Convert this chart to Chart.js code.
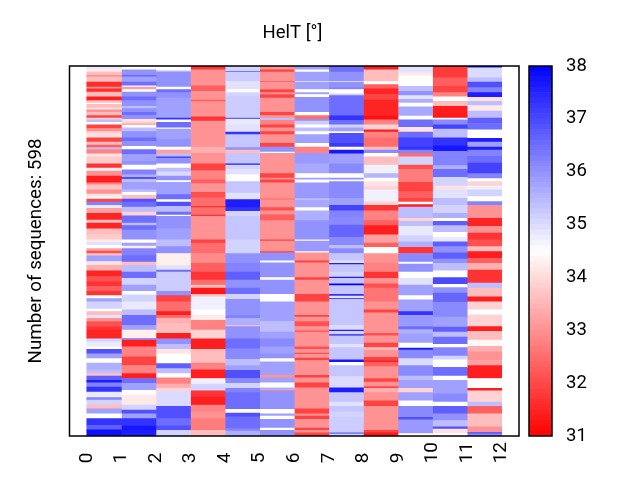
<!DOCTYPE html>
<html>
<head>
<meta charset="utf-8">
<title>HelT</title>
<script src="https://cdn.jsdelivr.net/npm/chart.js@4/dist/chart.umd.min.js"></script>
<style>
  html, body { margin: 0; padding: 0; background: #fff; }
  #wrap { position: relative; width: 640px; height: 480px; }
  #heat { position: absolute; left: 0; top: 0; }
  #bar { position: absolute; left: 520px; top: 0; }
</style>
</head>
<body>
<div id="wrap">
  <canvas id="heat" width="585" height="480" style="width:585px;height:480px"></canvas>
  <canvas id="bar" width="120" height="480" style="width:120px;height:480px"></canvas>
</div>
<script>
// each column: [last row of the run, HelT value], rows counted from the top
const col0 = [[2,34.9],[5,34.8],[10,34.2],[15,33.6],[18,33],[26,33.6],[34,31.6],[37,33],[42,31.6],[50,33.6],[56,31.4],[60,33.6],[62,34.5],[68,33.6],[71,34.1],[75,33],[80,33.6],[84,31.9],[87,33.9],[91,35.4],[95,34.5],[101,31.9],[106,33],[110,33.9],[116,34.1],[123,31.9],[128,33.6],[132,32.3],[135,35.4],[142,32.8],[147,34.1],[158,33.8],[165,31.7],[170,34.3],[178,33],[189,31.4],[192,32.8],[200,33.7],[207,33],[212,34.1],[215,34.5],[220,31.9],[225,36.2],[230,34.8],[238,33.2],[249,31.5],[254,33.6],[263,31.5],[273,33.6],[281,33.8],[285,34.2],[290,34.9],[295,34.5],[299,33.2],[303,32.1],[307,33.6],[316,35.8],[322,34.1],[331,33.4],[340,31.5],[349,32.1],[356,31.7],[364,32.3],[371,31.7],[376,34.5],[381,35.8],[393,35.1],[397,34.5],[403,33.6],[408,34.9],[413,33],[421,32.1],[427,31.7],[441,31.5],[446,35.1],[454,34.8],[458,34.5],[465,36.9],[473,35.8],[480,34.5],[491,35.6],[497,35.4],[501,33.6],[508,36.7],[512,37.6],[519,36.2],[527,37.3],[536,34.8],[540,36.2],[548,35.1],[554,33.6],[562,35.8],[570,34.5],[581,37.3],[588,36.7],[598,37.8]];
const col1 = [[6,34.5],[15.5,36],[17.5,36.7],[26,35.8],[32,36.5],[34,34.5],[38,33.2],[42,34.5],[50,36],[56,36.5],[65,36],[69,35.4],[75,36],[80,36.5],[86,36],[90,34.1],[93,33.9],[96,33.4],[100,34.5],[106,35.4],[116,36],[122,36.5],[130,36],[135,34.5],[143,36.5],[154,35.8],[160,36],[168,34.5],[176,36.2],[180,35.6],[183,36.9],[188,35.4],[200,35.8],[204,35.4],[209,34.5],[215,33.6],[220,36.9],[228,36.5],[236,35.4],[242,33.9],[254,36.5],[258,35.4],[265,36.5],[281,36],[286,34.5],[291,35.8],[295,34.2],[306.5,36.2],[317,36.5],[322,33.6],[333,35.4],[343,36.5],[354,35.1],[364,35.8],[370,34.5],[381,35.1],[394,34.8],[403,35.4],[419,36.5],[427,35.8],[440,34.3],[443,36],[454,31.4],[470,32.8],[484,31.9],[497,32.8],[505,31.4],[513,36.5],[524,35.8],[532,34.5],[548,34.2],[556,35.1],[562,36.9],[570,35.8],[581,37.3],[589,37.7],[598,37.6]];
const col2 = [[8,34.5],[10,35.4],[34,36],[38,34.5],[43,36.5],[52,36],[84,35.8],[87,37.3],[91,34.5],[100,36.5],[102,34.5],[119,35.8],[131,36],[136,34.5],[142,33.2],[147,35.4],[149,37.3],[158,36],[165,34.5],[171,35.4],[178,35],[185,36],[188,34.5],[208,35.8],[216,36.5],[220,34.5],[227,36.9],[236,35.4],[241,36.5],[243,34.5],[263,36],[281,35.8],[292,35.4],[303,36],[322,34.3],[330,34.9],[333,36.5],[364,35.2],[371,36],[381,31.9],[397,32.5],[403,31.4],[408,32.5],[416,33.4],[432,33.6],[441,31.4],[450,36],[458,35.4],[465,34.1],[481,34.5],[489,36.7],[497,35.4],[504,34.5],[514,32.8],[521,33.4],[526,33.9],[550,35],[570,36.9],[581,36.5],[589,36.9],[598,35.1]];
const col3 = [[6,31.7],[32,33],[41,32.3],[55,33],[57.5,32.3],[82,33],[89,31.7],[131,33],[141,33.4],[158,33],[169,31.9],[184,32.8],[190,32.3],[204,33],[213,32.1],[227,32.5],[229,31.7],[241,32.5],[243,31.7],[281,33],[286,31.9],[303,32.5],[319,32.9],[333,32.3],[346,31.7],[354,32.5],[359,33.6],[369,31.3],[373,33.6],[394,34.7],[403,34.5],[411,34.2],[427,32.8],[441,33.9],[458,31.4],[480,33.6],[491,32.8],[505,31.4],[514,34.7],[525,35.1],[535,31.7],[548,31.4],[559,32.8],[570,33],[589,32.7],[598,33.6]];
const col4 = [[9,35.1],[10,37.3],[25,35.2],[38,34.9],[43,34.5],[49,35.1],[84,35.2],[86,36.7],[95,34.8],[107,34.9],[111,37.3],[132,35.3],[136,36],[141,33.6],[158,35.3],[160,37.6],[167,35.1],[176,34.9],[187,34.5],[205.5,35.3],[216,34.9],[229,37.6],[235,37.3],[243,35.1],[281,35.3],[303,35.1],[319,36],[333,36.2],[346,36.7],[359,36],[369,36.5],[377,35.1],[403,36],[408,36.2],[419,35.6],[421,33.6],[441,36],[457,36.5],[474,36.1],[484,35.4],[492,35.8],[505,36.9],[513,36.1],[521,35.1],[528,36.2],[555,36.5],[561,34.5],[567,36.9],[586,36.5],[590,36.2],[598,35.6]];
const col5 = [[6,33],[10,31.9],[25,33],[26,31.9],[38,33],[43,31.9],[46,33],[52,31.9],[75,33],[80,31.9],[84,33],[88,35.4],[95,32.8],[100,31.9],[106,33],[111,31.9],[125,33],[131,31.9],[139,36],[141,34.5],[174,33],[181,31.9],[184,33],[189,31.9],[215,33],[216,31.9],[229,33],[234,32.1],[240,33],[250,32.3],[281,33],[283,31.9],[300,33],[302,31.9],[315,36],[318,34.5],[342,36],[346,34.5],[369,36],[381,34.5],[413,35.8],[430,35.4],[441,35.8],[454,36.1],[465,35.8],[473,36],[478,34.5],[500,35.8],[504,33],[512,35.8],[520,34.5],[524,35.6],[526,32.8],[555,36],[562,34.5],[566,35.8],[571,34.5],[585,36],[589,34.5],[598,36]];
const col6 = [[6,35.8],[10,34.5],[25,35.8],[26,34.5],[38,35.8],[43,34.5],[46,35.8],[50.5,34.5],[75,36],[80,34.5],[86,32.5],[89,36],[95,35.2],[100,34.5],[106,35.4],[111,34.5],[125,35.8],[131,34.5],[141,32.8],[158,35.9],[174,35.7],[181,34.5],[184,35.8],[189,34.5],[215,35.9],[216,34.5],[229,35.7],[234,34.5],[250,35.6],[281,36],[283,34.5],[300,35.9],[302,34.5],[315,33],[318,31.9],[342,33],[346,31.9],[369,33],[381,31.9],[403,33],[406,31.9],[413,33],[421,32.1],[428,33],[430,32.1],[454,33],[458,32.1],[464,33],[466,32.1],[472,33],[476,31.9],[500,33],[504,31.9],[512,33],[520,31.9],[554,33],[562,31.9],[566,33],[571,31.9],[585,33],[589,31.9],[593,33],[598,31.9]];
const col7 = [[10,36.5],[25,36],[26,34.5],[35,36],[38,36.2],[45,34.5],[48,35.1],[80,36.5],[88,37.3],[95,36.5],[100,35.1],[106,35.8],[109,34.5],[125,36.9],[131,37.2],[136,34.5],[142,37.7],[158,35.8],[174,36.1],[181,34.5],[184,36],[187,34.5],[214,36.1],[225,35.8],[234,37.1],[245,36.2],[257,36.1],[277,36.6],[290,36.1],[295,35.4],[303,36.1],[315,35.3],[319,34.9],[321,37.6],[333,35.3],[341,35.1],[343,37.6],[352,35.3],[355,38],[369,35.3],[372,37.3],[376,34.9],[377,37.6],[394,35.3],[419,35.3],[427,35],[429,37.6],[434,35.1],[436,37.6],[450,35.3],[455,34.9],[475,35.3],[479,37.7],[484,34.5],[502,35.3],[520,35],[528,37.6],[543,35.3],[550,34.9],[559,35.3],[568,35.1],[593,35.2],[595,36.7],[598,35.1]];
const col8 = [[6,31.4],[25,33.6],[30,34.5],[37,32.3],[46,31.5],[55,31.9],[81,31.5],[87,31.2],[95,32.8],[103,33.9],[107,31.4],[116,32.8],[131,32.5],[136,33.6],[141,36.1],[147,34.5],[160,33.6],[174,34.7],[181,35.5],[187,34.5],[195,34.1],[200,33.9],[219,34.7],[225,33.9],[234,31.7],[250,32.8],[258,32.3],[273,31.4],[286,33.2],[293,32.3],[303,34.5],[319,33],[333,32.8],[343,31.7],[352,33],[359,32.1],[381,32.6],[394,33],[399,31.9],[432,33],[436,32.1],[448,33],[455,31.9],[459,33.6],[471,33],[476,31.9],[479,31.4],[486,32.3],[505,33],[511,31.9],[518,33],[521,31.9],[528,33.4],[541,33],[550,31.9],[589,33],[593,31.9],[598,31.3]];
const col9 = [[11,34.9],[16,34.2],[33,34.5],[41,35.4],[48,36],[54,34.9],[60,35.6],[66,34.5],[81,35.7],[87,34.5],[99,36.5],[107,34.1],[116,36.5],[131,37.1],[136,37.3],[141,36.2],[147,32.5],[160,35.1],[167,32.1],[188,32.7],[203,31.9],[214,32.3],[220,31.9],[224,34.5],[228,31.4],[246,35.4],[251,33.9],[259,35.4],[274,34.8],[284,35.1],[293,35.6],[303,31.7],[317,36.1],[320,34.5],[333,36],[343,34.5],[354,34.9],[371,35.8],[378,34.5],[394,35.8],[397,35.8],[403,37.3],[421,35.9],[426,36.5],[433,35.6],[448,35.8],[456,34.5],[459,37.6],[473,36.1],[484,35],[501,36.1],[508,35.4],[521,35.8],[528,33.9],[541,35.8],[550,34.5],[568,36.1],[572,36.9],[594,35.9],[598,34.5]];
const col10 = [[19,31.8],[33,32.3],[43,31.9],[50,32.8],[57,34.5],[65,33.6],[79,31.4],[84,31.3],[87,34.5],[95,36.1],[102,37.1],[116,35.4],[129,37.3],[138,37.7],[161,36.2],[167,35.6],[180,36.5],[194,35.1],[200,34.1],[214,34.9],[225,35.4],[238,35.1],[246,35.6],[251,34.5],[258,36.7],[269,35.4],[277,34.5],[284,34.8],[292,36.7],[302,36],[312,36.7],[319,36],[331,35.4],[342,34.5],[353,37],[358,34.5],[367,36],[382,36.6],[406,36.1],[422,35.8],[430,36.7],[438,35.4],[450,36.5],[455,34.5],[469,36.2],[475,35.1],[487,34.5],[501,36.5],[508,34.5],[530,35.8],[543,36.1],[550,34.5],[562,36.7],[573,36],[583,35.4],[587,36.9],[594,34.1],[598,34.5]];
const col11 = [[3,37.6],[19,35],[26,35.4],[35,36.9],[43,36.2],[50.5,37.6],[57,34.1],[64,35.4],[73,34.2],[84,35.4],[93,36.7],[103,36.5],[117,34.5],[123,37.6],[131,35.8],[136,37.6],[146,36.2],[157,36.5],[174,37.1],[182,36.2],[187,34.5],[194,33.9],[200,34.7],[211,35.1],[219,34.5],[225,36.2],[246,33],[259,31.5],[270,33],[281,31.7],[292,32.1],[300,33.6],[311,31.4],[319,32.3],[330,33.4],[351,31.7],[359,35.4],[373,33.6],[381,31.4],[394,33.9],[402,34.5],[421,33.9],[429,31.4],[443,33.6],[453,34.4],[462,33.4],[476,33],[484,33.2],[505,31.4],[521,34.5],[525,31.4],[543,33.9],[550,35.4],[562,32.3],[583,33.6],[592,33],[595,36.7],[598,36.1]];
const columns = [col0, col1, col2, col3, col4, col5, col6, col7, col8, col9, col10, col11];

const rowCount = 598;
const tickLabels = [0, 1, 2, 3, 4, 5, 6, 7, 8, 9, 10, 11, 12];
const colorTicks = [31, 32, 33, 34, 35, 36, 37, 38];
const colorSteps = [31, 31.1, 31.2, 31.3, 31.4, 31.5, 31.6, 31.7, 31.8, 31.9, 32, 32.1, 32.2, 32.3, 32.4, 32.5, 32.6, 32.7, 32.8, 32.9, 33, 33.1, 33.2, 33.3, 33.4, 33.5, 33.6, 33.7, 33.8, 33.9, 34, 34.1, 34.2, 34.3, 34.4, 34.5, 34.6, 34.7, 34.8, 34.9, 35, 35.1, 35.2, 35.3, 35.4, 35.5, 35.6, 35.7, 35.8, 35.9, 36, 36.1, 36.2, 36.3, 36.4, 36.5, 36.6, 36.7, 36.8, 36.9, 37, 37.1, 37.2, 37.3, 37.4, 37.5, 37.6, 37.7, 37.8, 37.9, 38];

const FONT = 'Roboto, "DejaVu Sans", sans-serif';
const VMIN = 31, VMAX = 38, VMID = 34.5;

// red - white - blue
function heatColor(v) {
  if (v <= VMID) {
    const g = Math.round(255 * (v - VMIN) / (VMID - VMIN));
    return `rgb(255,${g},${g})`;
  }
  const g = Math.round(255 * (VMAX - v) / (VMAX - VMID));
  return `rgb(${g},${g},255)`;
}

// black box round the plot area
const frame = {
  id: 'frame',
  afterDraw(chart) {
    const { ctx, chartArea: a } = chart;
    ctx.save();
    ctx.strokeStyle = '#000';
    ctx.lineWidth = 1.5;
    ctx.strokeRect(a.left, a.top, a.right - a.left, a.bottom - a.top);
    ctx.restore();
  }
};

// ===== heatmap =====
const heatSets = columns.map((runs, i) => {
  let lo = 0;
  const data = [], colors = [];
  runs.forEach(([end, v]) => {
    data.push({ x: i + 0.5, y: [lo, end] });
    colors.push(heatColor(v));
    lo = end;
  });
  return { data, backgroundColor: colors, borderWidth: 0, grouped: false, barPercentage: 1, categoryPercentage: 1 };
});

new Chart(document.getElementById('heat'), {
  type: 'bar',
  data: { datasets: heatSets },
  plugins: [frame],
  options: {
    responsive: false,
    animation: false,
    layout: { padding: 0 },
    plugins: {
      legend: { display: false },
      tooltip: { enabled: false },
      title: {
        display: true,
        text: 'HelT [°]',
        color: '#000',
        font: { family: FONT, size: 18.5, weight: 'normal' },
        padding: { top: 22, bottom: 21.8 }
      }
    },
    scales: {
      x: {
        type: 'linear',
        offset: false,
        min: -0.5,
        max: 12.5,
        grid: { display: false, drawTicks: false },
        border: { display: false },
        afterBuildTicks(s) { s.ticks = tickLabels.map(v => ({ value: v })); },
        afterFit(s) { s.height = 44; },
        ticks: {
          color: '#000',
          font: { family: FONT, size: 19 },
          minRotation: 90,
          maxRotation: 90,
          padding: 6,
          autoSkip: false,
          // figure space keeps single digits lined up with the two digit ones
          callback: v => (v < 10 ? v + '\u2007' : String(v))
        }
      },
      y: {
        min: 0,
        max: rowCount,
        reverse: true,
        grid: { display: false, drawTicks: false },
        border: { display: false },
        ticks: { display: false },
        afterFit(s) { s.width = 69.5; },
        title: {
          display: true,
          text: 'Number of sequences: ' + rowCount,
          color: '#000',
          font: { family: FONT, size: 18.8 },
          padding: { top: 25, bottom: 0 }
        }
      },
      // only holds the room on the right of the box
      right: {
        position: 'right',
        grid: { display: false, drawTicks: false },
        border: { display: false },
        ticks: { display: false },
        afterFit(s) { s.width = 66; }
      }
    }
  }
});

// ===== colour bar =====
const barSets = colorSteps.slice(0, -1).map((v, i) => ({
  data: [[v, colorSteps[i + 1]]],
  backgroundColor: heatColor((v + colorSteps[i + 1]) / 2),
  borderWidth: 0,
  grouped: false,
  barPercentage: 1,
  categoryPercentage: 1
}));

new Chart(document.getElementById('bar'), {
  type: 'bar',
  data: { labels: [''], datasets: barSets },
  plugins: [frame],
  options: {
    responsive: false,
    animation: false,
    layout: { padding: { left: 9, top: 66, bottom: 44 } },
    plugins: { legend: { display: false }, tooltip: { enabled: false } },
    scales: {
      x: { display: false },
      y: {
        position: 'right',
        min: VMIN,
        max: VMAX,
        grid: { display: false, drawTicks: false },
        border: { display: false },
        afterBuildTicks(s) { s.ticks = colorTicks.map(v => ({ value: v })); },
        afterFit(s) { s.width = 88; },
        ticks: {
          color: '#000',
          font: { family: FONT, size: 18.5 },
          padding: 14
        }
      }
    }
  }
});
</script>
</body>
</html>
